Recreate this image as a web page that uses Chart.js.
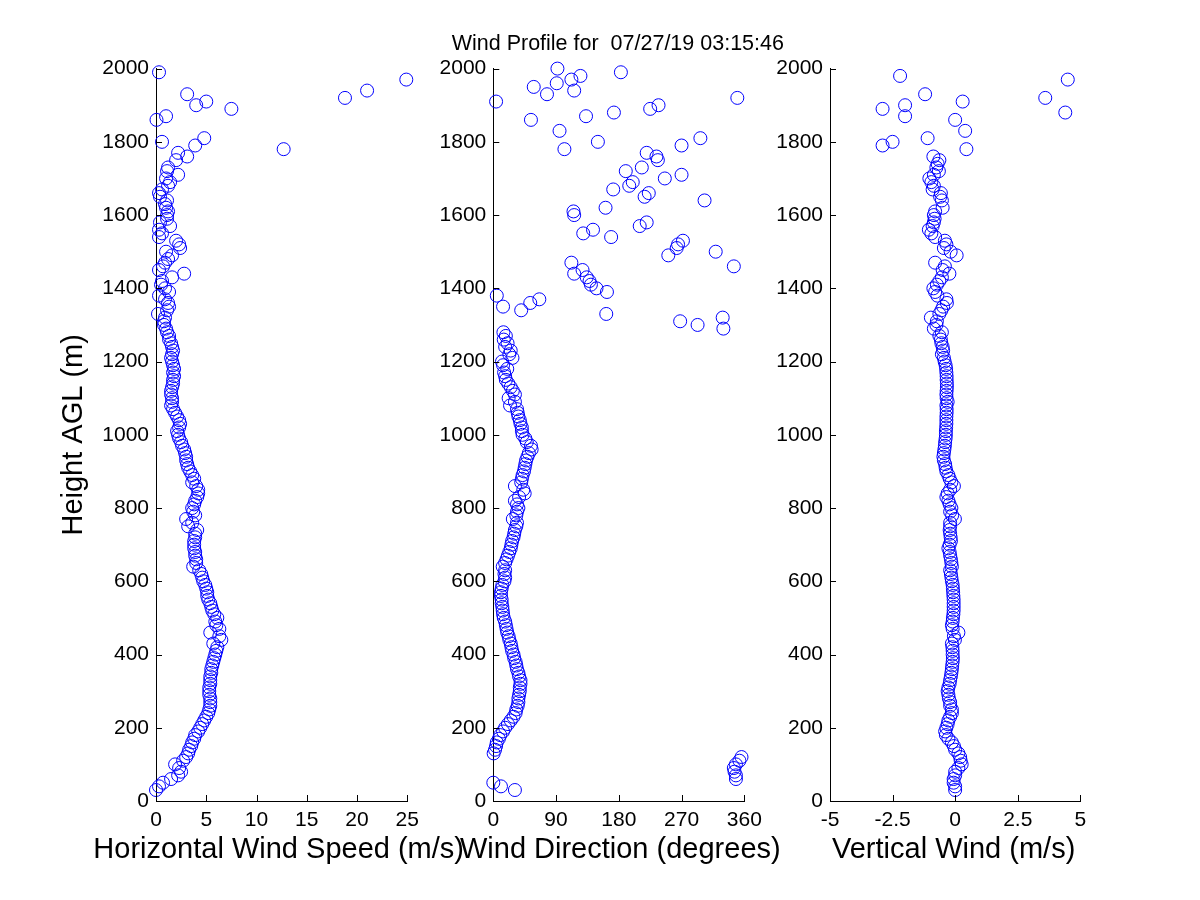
<!DOCTYPE html>
<html><head><meta charset="utf-8">
<script src="https://cdn.jsdelivr.net/npm/chart.js@4.4.1/dist/chart.umd.min.js"></script>
<style>
html,body{margin:0;padding:0;background:#fff;}
#wrap{position:relative;width:1200px;height:900px;overflow:hidden;background:#fff;}
#wrap canvas{position:absolute;left:0;top:0;}
</style></head><body>
<div id="wrap">
<canvas id="c1" width="1200" height="900"></canvas>
<canvas id="c2" width="1200" height="900"></canvas>
<canvas id="c3" width="1200" height="900"></canvas>
</div>
<script>
// Heights AGL (m)
const heights = [
  30,40,50,60,70,80,90,100,
  110,120,130,140,150,160,170,180,190,200,
  210,220,230,240,250,260,270,280,290,300,
  310,320,330,340,350,360,370,380,390,400,
  410,420,430,440,450,460,470,480,490,500,
  510,520,530,540,550,560,570,580,590,600,
  610,620,630,640,650,660,670,680,690,700,
  710,720,730,740,750,760,770,780,790,800,
  810,820,830,840,850,860,870,880,890,900,
  910,920,930,940,950,960,970,980,990,1000,
  1010,1020,1030,1040,1050,1060,1070,1080,1090,1100,
  1110,1120,1130,1140,1150,1160,1170,1180,1190,1200,
  1210,1220,1230,1240,1250,1260,1270,1280,1290,1300,
  1310,1320,1330,1340,1350,1360,1370,1380,1390,1400,
  1410,1420,1430,1440,1450,1460,1470,1480,1490,1500,
  1510,1520,1530,1540,1550,1560,1570,1580,1590,1600,
  1610,1620,1630,1640,1650,1660,1670,1680,1690,1700,
  1710,1720,1730,1740,1750,1760,1770,1780,1790,1800,
  1810,1820,1830,1840,1850,1860,1870,1880,1890,1900,
  1910,1920,1930,1940,1950,1960,1970,1980,1990,2000
];
// Horizontal wind speed (m/s)
const horizontalSpeed = [
  0.0,0.3,0.7,1.5,2.2,2.5,2.3,1.9,
  2.7,3.0,3.2,3.3,3.5,3.6,3.8,3.9,4.2,4.4,
  4.6,4.8,5.0,5.2,5.3,5.4,5.4,5.4,5.3,5.3,
  5.3,5.4,5.4,5.4,5.5,5.5,5.6,5.7,5.8,5.9,
  6.0,6.1,5.7,6.5,6.3,5.4,6.3,6.0,5.9,6.1,
  5.8,5.6,5.5,5.4,5.2,5.1,5.1,5.0,4.9,4.7,
  4.6,4.5,4.3,3.7,4.0,4.0,3.9,3.9,3.8,3.8,
  3.8,3.9,3.9,4.1,3.2,3.6,3.0,3.9,3.7,3.6,
  3.8,3.9,4.1,4.2,4.2,4.0,3.6,3.8,3.6,3.4,
  3.2,3.1,3.0,3.0,2.9,2.8,2.6,2.5,2.3,2.2,
  2.1,2.3,2.4,2.3,2.1,1.9,1.7,1.5,1.6,1.6,
  1.5,1.5,1.6,1.7,1.7,1.8,1.7,1.8,1.7,1.6,
  1.5,1.6,1.7,1.6,1.5,1.3,1.3,1.1,1.0,0.8,
  0.8,0.9,0.2,1.1,1.3,1.2,0.9,0.3,1.3,0.9,
  0.5,0.6,1.6,2.8,0.3,0.7,0.9,1.2,1.6,1.0,
  2.4,2.3,2.0,0.3,0.6,0.3,1.4,0.4,1.1,1.1,
  1.2,1.0,0.9,1.1,0.4,0.3,0.6,1.2,1.4,1.0,
  2.2,1.1,1.2,null,2.0,3.1,2.2,12.7,3.9,0.6,
  4.8,null,null,null,null,0.05,1.0,null,7.5,4.0,
  5.0,18.8,3.1,21.0,null,null,24.9,null,0.3,null
];
// Wind direction (degrees)
const windDirection = [
  31,11,0,348,348,346,345,348,
  353,356,0.5,2.5,4,5,8,10,14,17,
  21,25,29,32,33,35,36,36,37,38,
  38,39,39,37,36,34,33,32,30,29,
  27,26,25,23,22,20,19,18,17,15,
  14,13.5,13,12,12,11,11,12,13,16,
  17,16,17,13.5,17,19,21,23,25,26,
  27,29,30,31,33,34,28,33,34,36,
  34,31,37,45,43,31,40,41,42,44,
  45,46,47,49,51,55,54,48,46,42,
  41,41,39,38,36,35,34,24,31,22,
  31,28,25,21.5,18,17,15.5,20,14,12.5,
  27.5,23,25,17,20.5,15,18,14.5,330,293,
  268,329,162,40,14,53,66,5,163,148,
  140,138,134,116,128,345,112,null,251,319,
  263,265,272,169,129,143,210,220,null,116,
  115,161,null,303,217,223,172,195,200,246,
  270,190,213,null,236,234,220,102,270,150,
  297,null,95,null,null,54,133,173,225,237,
  4,350,77,116,58,91,112,125,183,92
];
// Vertical wind (m/s)
const verticalWind = [
  0.0,0.0,-0.06,-0.06,0.0,0.0,0.13,0.26,
  0.22,0.2,0.13,0.0,-0.05,-0.13,-0.27,-0.37,-0.4,-0.35,
  -0.3,-0.27,-0.2,-0.13,-0.13,-0.2,-0.2,-0.25,-0.27,-0.3,
  -0.27,-0.22,-0.2,-0.17,-0.15,-0.13,-0.12,-0.1,-0.09,-0.1,
  -0.1,-0.11,-0.13,-0.01,-0.05,0.13,-0.1,-0.13,-0.1,-0.09,
  -0.07,-0.06,-0.06,-0.06,-0.06,-0.07,-0.08,-0.09,-0.1,-0.13,
  -0.15,-0.17,-0.2,-0.13,-0.15,-0.17,-0.2,-0.22,-0.27,-0.22,
  -0.17,-0.18,-0.2,-0.22,-0.2,-0.2,-0.01,-0.12,-0.2,-0.15,
  -0.22,-0.27,-0.35,-0.3,-0.2,-0.05,-0.15,-0.22,-0.27,-0.35,
  -0.38,-0.4,-0.45,-0.47,-0.45,-0.43,-0.41,-0.4,-0.38,-0.37,
  -0.37,-0.36,-0.35,-0.35,-0.35,-0.34,-0.34,-0.35,-0.3,-0.34,
  -0.35,-0.34,-0.33,-0.33,-0.34,-0.34,-0.35,-0.36,-0.38,-0.42,
  -0.45,-0.53,-0.48,-0.5,-0.55,-0.57,-0.63,-0.53,-0.85,-0.75,
  -0.73,-0.97,-0.63,-0.55,-0.48,-0.33,-0.35,-0.71,-0.8,-0.87,
  -0.73,-0.63,-0.53,-0.23,-0.5,-0.41,-0.8,null,0.06,-0.18,
  -0.45,-0.35,-0.41,-0.8,-0.95,-1.05,-0.9,-0.85,-0.82,-0.85,
  -0.8,-0.5,null,-0.53,-0.6,-0.57,-0.9,-0.85,-0.95,-1.03,
  -0.85,-0.65,-0.75,-0.7,-0.63,-0.87,null,0.45,-2.9,-2.5,
  -1.1,null,0.4,null,null,0.0,-2.0,4.4,-2.9,-2.0,
  0.3,3.6,-1.2,null,null,null,4.5,-2.2,null,null
];
const speedTicks = [0,5,10,15,20,25];
const directionTicks = [0,90,180,270,360];
const verticalTicks = [-5,-2.5,0,2.5,5];
const heightTicks = [0,200,400,600,800,1000,1200,1400,1600,1800,2000];
const titleText = 'Wind Profile for  07/27/19 03:15:46';
const xLabels = ['Horizontal Wind Speed (m/s)','Wind Direction (degrees)','Vertical Wind (m/s)'];
const yLabel = 'Height AGL (m)';

const FONT = "'Liberation Sans', Arial, Helvetica, sans-serif";

const inwardTicks = {
  id: 'inwardTicks',
  afterDatasetsDraw(chart) {
    const {ctx, chartArea: a, scales: {x, y}} = chart;
    ctx.save();
    ctx.strokeStyle = '#000';
    ctx.lineWidth = 1;
    ctx.beginPath();
    x.ticks.forEach(t => {
      const px = Math.round(x.getPixelForValue(t.value)) + 0.5;
      ctx.moveTo(px, a.bottom); ctx.lineTo(px, a.bottom - 6);
    });
    y.ticks.forEach(t => {
      const py = Math.round(y.getPixelForValue(t.value)) + 0.5;
      ctx.moveTo(a.left, py); ctx.lineTo(a.left + 6, py);
    });
    ctx.stroke();
    ctx.restore();
  }
};

// Draws the x-axis caption (and the figure title on the middle panel) without width squeezing
const panelText = {
  id: 'panelText',
  afterDraw(chart, args, opts) {
    const {ctx, chartArea: a} = chart;
    const cx = (a.left + a.right) / 2;
    ctx.save();
    ctx.fillStyle = '#000';
    ctx.textAlign = 'center';
    ctx.textBaseline = 'middle';
    ctx.font = '29px ' + FONT;
    ctx.fillText(opts.xLabel, cx + opts.xShift, a.bottom + 49);
    if (opts.title) {
      ctx.font = '21.5px ' + FONT;
      ctx.fillText(opts.title, cx - 1, a.top - 24.5);
    }
    ctx.restore();
  }
};

function makePanel(id, values, xTicks, xLabel, geom, withYTitle, title) {
  const pts = [];
  heights.forEach((h, i) => { if (values[i] !== null) pts.push({x: values[i], y: h}); });
  const cfg = {
    type: 'scatter',
    data: { datasets: [{
      data: pts,
      pointStyle: 'circle',
      pointRadius: 6.5,
      pointHoverRadius: 6.5,
      pointBorderWidth: 1,
      pointBorderColor: '#0000ff',
      pointBackgroundColor: 'rgba(0,0,0,0)',
      showLine: false,
      clip: false
    }]},
    options: {
      responsive: false,
      animation: false,
      devicePixelRatio: 1,
      events: [],
      layout: { padding: { left: 0, right: 1200 - geom.right, top: 68.6, bottom: 0 } },
      plugins: {
        legend: { display: false },
        tooltip: { enabled: false },
        title: { display: false },
        panelText: { xLabel: xLabel, xShift: geom.shift, title: title }
      },
      scales: {
        x: {
          type: 'linear',
          min: xTicks[0], max: xTicks[xTicks.length - 1],
          afterBuildTicks: s => { s.ticks = xTicks.map(v => ({value: v})); },
          afterFit: s => { s.height = 99; },
          grid: { display: false, drawTicks: false },
          border: { display: true, color: '#000', width: 1 },
          ticks: { color: '#000', padding: 7, autoSkip: false, maxRotation: 0,
                   font: { family: FONT, size: 21 }, callback: v => String(v) },
          title: { display: false }
        },
        y: {
          type: 'linear',
          min: 0, max: 2000,
          afterBuildTicks: s => { s.ticks = heightTicks.map(v => ({value: v})); },
          afterFit: s => { s.width = geom.left; },
          grid: { display: false, drawTicks: false },
          border: { display: true, color: '#000', width: 1 },
          ticks: { color: '#000', padding: 7, autoSkip: false,
                   font: { family: FONT, size: 21 }, callback: v => String(v) },
          title: { display: withYTitle, text: yLabel, color: '#000',
                   font: { family: FONT, size: 29, weight: 'normal' },
                   padding: { top: 56.6, bottom: 0 } }
        }
      }
    },
    plugins: [inwardTicks, panelText]
  };
  return new Chart(document.getElementById(id), cfg);
}

makePanel('c1', horizontalSpeed, speedTicks, xLabels[0], {left: 156, right: 407.3, shift: -3}, true, null);
makePanel('c2', windDirection, directionTicks, xLabels[1], {left: 493.3, right: 744.3, shift: 1.5}, false, titleText);
makePanel('c3', verticalWind, verticalTicks, xLabels[2], {left: 830, right: 1080.3, shift: -1.5}, false, null);
</script>
</body></html>
